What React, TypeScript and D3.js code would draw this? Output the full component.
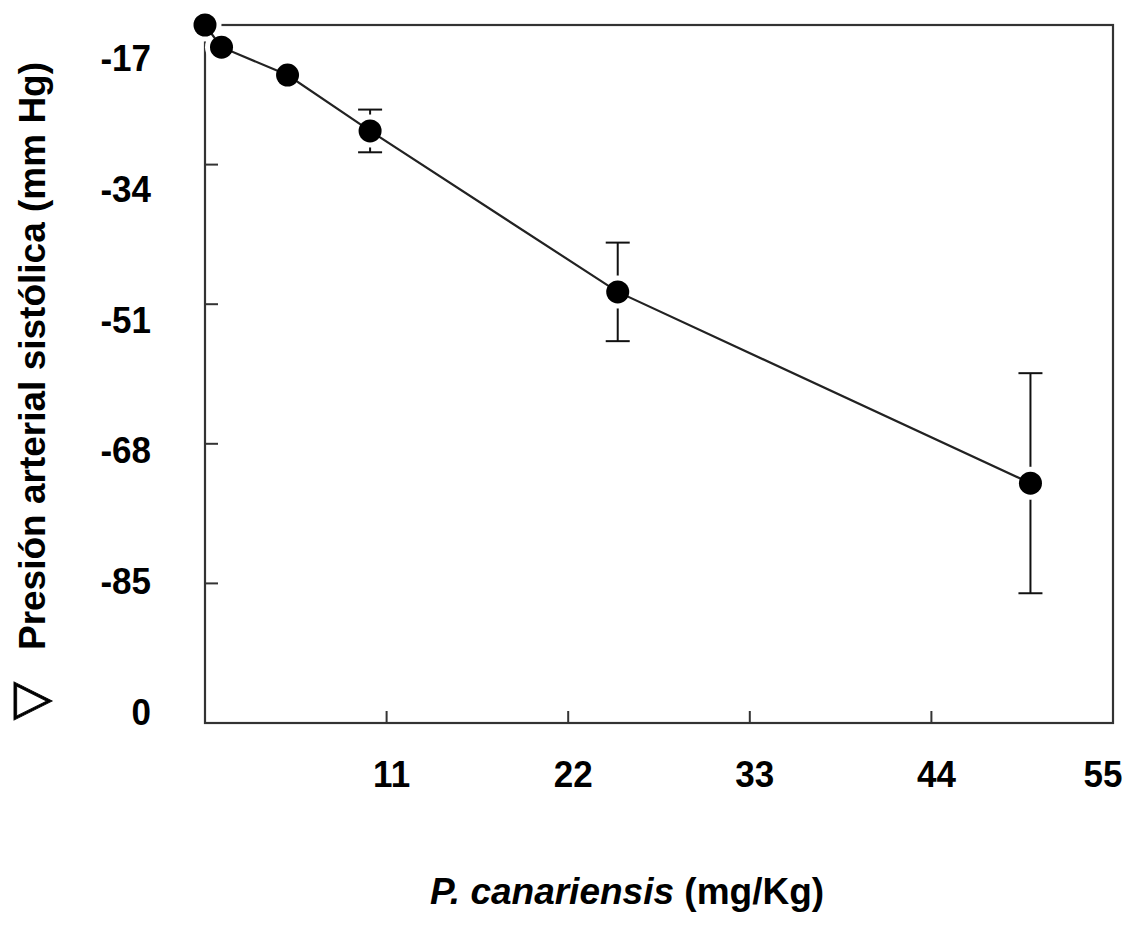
import React from "react";
import * as d3 from "d3";

const doses = [0, 1, 5, 10, 25, 50];
const pressureChange = [0, -2.7, -6.1, -12.9, -32.5, -55.8];
const errors = [0, 0, 0, 2.6, 6.0, 13.4];
const xTicks = [11, 22, 33, 44, 55];
const yTickMarks = [-17, -34, -51, -68];
const yTickLabels = ["-17", "-34", "-51", "-68", "-85", "0"];

const W = 1126;
const H = 939;
const left = 205, right = 1113, top = 25, bottom = 723;
const FONT = "'Liberation Sans', Arial, Helvetica, sans-serif";

export default function App() {
  const x = d3.scaleLinear().domain([0, 55]).range([left, right]);
  const y = d3.scaleLinear().domain([0, -85]).range([top, bottom]);
  const yLab = d3.scalePoint<string>().domain(yTickLabels).range([71, 725]);

  const pts = doses.map((d, i) => ({ d, v: pressureChange[i], e: errors[i] }));
  const line = d3
    .line<{ d: number; v: number }>()
    .x((p) => x(p.d))
    .y((p) => y(p.v));

  const r = 11.5;
  const cap = 12;

  return (
    <svg
      width={W}
      height={H}
      style={{ position: "absolute", left: 0, top: 0, background: "#fff" }}
      fontFamily={FONT}
    >
      <rect x={0} y={0} width={W} height={H} fill="#fff" />
      <rect
        x={left}
        y={top}
        width={right - left}
        height={bottom - top}
        fill="none"
        stroke="#333"
        strokeWidth={2.2}
      />
      {xTicks.map((t) => (
        <g key={"xt" + t}>
          <line x1={x(t)} x2={x(t)} y1={bottom} y2={bottom - 12} stroke="#333" strokeWidth={2} />
          <text
            transform={`translate(${t === 55 ? x(t) - 10 : x(t) + 5}, 787) scale(1, 1.06)`}
            textAnchor="middle"
            fontSize={35}
            fontWeight="bold"
            fill="#000"
          >
            {t}
          </text>
        </g>
      ))}
      {yTickMarks.map((t) => (
        <line
          key={"ytm" + t}
          x1={left}
          x2={left + 13}
          y1={y(t)}
          y2={y(t)}
          stroke="#333"
          strokeWidth={2}
        />
      ))}
      {yTickLabels.map((l) => (
        <text
          key={"ytl" + l}
          transform={`translate(151, ${yLab(l)}) scale(1, 1.06)`}
          textAnchor="end"
          fontSize={35}
          fontWeight="bold"
          fill="#000"
        >
          {l}
        </text>
      ))}
      {pts
        .filter((p) => p.e > 0)
        .map((p, i) => (
          <g key={"eb" + i} stroke="#111" strokeWidth={2}>
            <line x1={x(p.d)} x2={x(p.d)} y1={y(p.v + p.e)} y2={y(p.v - p.e)} />
            <line x1={x(p.d) - cap} x2={x(p.d) + cap} y1={y(p.v + p.e)} y2={y(p.v + p.e)} />
            <line x1={x(p.d) - cap} x2={x(p.d) + cap} y1={y(p.v - p.e)} y2={y(p.v - p.e)} />
          </g>
        ))}
      {pts.map((p, i) => (
        <circle key={"h" + i} cx={x(p.d)} cy={y(p.v)} r={r + 5} fill="#fff" />
      ))}
      <path d={line(pts) || ""} fill="none" stroke="#222" strokeWidth={2.2} />
      {pts.map((p, i) => (
        <circle key={"m" + i} cx={x(p.d)} cy={y(p.v)} r={r} fill="#000" />
      ))}
      <text
        transform={`translate(45, 356) rotate(-90)`}
        textAnchor="middle"
        fontSize={37}
        fontWeight="bold"
        fill="#000"
      >
        Presión arterial sistólica (mm Hg)
      </text>
      <text
        transform={`translate(46, 701) rotate(-90)`}
        textAnchor="middle"
        fontSize={50}
        fontFamily="'DejaVu Sans', sans-serif"
        fill="#000"
        stroke="#000"
        strokeWidth={0.8}
      >
        ▽
      </text>
      <text x={627} y={904} textAnchor="middle" fontSize={37} fontWeight="bold" fill="#000">
        <tspan fontStyle="italic">P. canariensis</tspan>
        <tspan> (mg/Kg)</tspan>
      </text>
    </svg>
  );
}
